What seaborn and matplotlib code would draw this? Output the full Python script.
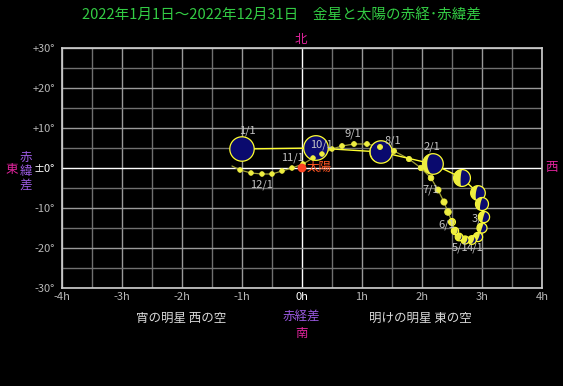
import numpy as np
import pandas as pd
import matplotlib
matplotlib.use("Agg")
import matplotlib.pyplot as plt
import seaborn as sns
from matplotlib.patches import Polygon

# ---------------- data ----------------
days = [0, 10, 20, 30, 40, 50, 60, 70, 80, 90, 100, 110, 120, 130, 140, 150, 160, 170,
        180, 190, 200, 210, 220, 230, 240, 250, 260, 270, 280, 290, 300, 310, 320, 330,
        340, 350]
ra_diff = [-1.00, 0.233, 1.317, 2.183, 2.667, 2.933, 3.000, 3.033, 3.000, 2.933, 2.833,
           2.717, 2.617, 2.550, 2.500, 2.433, 2.367, 2.267, 2.150, 1.983, 1.783, 1.533,
           1.300, 1.083, 0.867, 0.667, 0.500, 0.333, 0.183, 0.017, -0.167, -0.333,
           -0.500, -0.667, -0.850, -1.033]
dec_diff = [4.75, 5.0, 4.0, 1.0, -2.5, -6.25, -9.0, -12.25, -15.0, -17.25, -18.0, -18.0,
            -17.25, -15.75, -13.5, -11.0, -8.5, -5.5, -2.5, 0.0, 2.25, 4.25, 5.25, 6.0,
            6.0, 5.5, 4.75, 3.5, 2.5, 1.0, 0.0, -0.75, -1.5, -1.5, -1.25, -0.5]
disk_radius_px = [12.2, 12.3, 11.2, 10.3, 8.4, 7.3, 6.5, 5.6, 5.0, 4.6, 4.3, 4.0, 3.8, 3.6,
                  3.4, 3.3, 3.1, 3.0, 2.8, 2.7, 2.6, 2.5, 2.5, 2.4, 2.4, 2.4, 2.3, 2.3, 2.3,
                  2.3, 2.3, 2.3, 2.3, 2.3, 2.3, 2.3]
lit_fraction = [0.0, 0.0, 0.04, 0.22, 0.42, 0.36, 0.38, 0.45, 0.5, 0.6, 0.7, 0.75, 0.8,
                0.85, 0.9, 1, 1, 1, 1, 1, 1, 1, 1, 1, 1, 1, 1, 1, 1, 1, 1, 1, 1, 1, 1, 1]
end_day, end_ra, end_dec = 364, -1.167, 0.5

month_labels = ["1/1", "2/1", "3/1", "4/1", "5/1", "6/1", "7/1", "8/1", "9/1", "10/1",
                "11/1", "12/1"]
month_days = [0, 31, 59, 90, 120, 151, 181, 212, 243, 273, 304, 334]
label_ra = [-0.917, 2.167, 2.967, 2.883, 2.633, 2.417, 2.15, 1.517, 0.85, 0.317, -0.167, -0.683]
label_dec = [9.25, 5.25, -12.75, -20.0, -20.0, -14.25, -5.5, 6.75, 8.5, 5.75, 2.5, -4.25]

sun_ra, sun_dec = [0.0], [0.0]

xtick_vals = [-4, -3, -2, -1, 0, 1, 2, 3, 4]
xtick_labels = ["-4h", "-3h", "-2h", "-1h", "0h", "1h", "2h", "3h", "4h"]
ytick_vals = [30, 20, 10, 0, -10, -20, -30]
ytick_labels = ["+30°", "+20°", "+10°", "±0°", "-10°", "-20°", "-30°"]

title = "2022年1月1日～2022年12月31日　金星と太陽の赤経･赤緯差"

# ---------------- style ----------------
sns.set_theme(style="dark", rc={"axes.facecolor": "black", "figure.facecolor": "black",
                               "savefig.facecolor": "black"})
plt.rcParams["font.family"] = ["Noto Sans CJK JP", "DejaVu Sans"]

W, H = 563, 386
fig = plt.figure(figsize=(W / 100, H / 100), dpi=100)
ax = fig.add_axes([62 / W, 98 / H, 480 / W, 240 / H])
ax.set_facecolor("black")
ax.set_xlim(-4, 4)
ax.set_ylim(-30, 30)

# grid
for gx in np.arange(-4, 4.01, 0.5):
    if abs(gx) < 1e-9:
        c = "#ffffff"
    elif abs(gx - round(gx)) < 1e-9:
        c = "#9a9a9a"
    else:
        c = "#707070"
    ax.axvline(gx, color=c, lw=1, zorder=1)
for gy in np.arange(-30, 30.01, 5):
    if abs(gy) < 1e-9:
        c = "#ffffff"
    elif int(round(gy)) % 10 == 0:
        c = "#9a9a9a"
    else:
        c = "#707070"
    ax.axhline(gy, color=c, lw=1, zorder=1)
for s in ax.spines.values():
    s.set_color("#d0d0d0")
    s.set_linewidth(1.2)
    s.set_visible(True)
    s.set_zorder(1.5)

# path lines
df = pd.DataFrame({"day": days + [end_day], "ra": ra_diff + [end_ra],
                   "dec": dec_diff + [end_dec]})
early = df[df["day"] <= 90]
late = df[df["day"] >= 90]
sns.lineplot(data=late, x="ra", y="dec", sort=False, estimator=None, color="#a0a038",
             lw=0.9, ax=ax, zorder=2)
sns.lineplot(data=early, x="ra", y="dec", sort=False, estimator=None, color="#ffff30",
             lw=1.0, ax=ax, zorder=2.1)

# pixel scale of the axes
fig.canvas.draw()
bb = ax.get_window_extent()
kx = bb.width / 8.0
ky = bb.height / 60.0

navy = "#0a0a6e"
yel = "#eeee40"
theta = np.linspace(-np.pi / 2, np.pi / 2, 60)
for d, x, y, r, k in zip(days, ra_diff, dec_diff, disk_radius_px, lit_fraction):
    z = 3 + d / 1000.0
    ang = np.linspace(0, 2 * np.pi, 80)
    circ = np.column_stack([x + r * np.cos(ang) / kx, y + r * np.sin(ang) / ky])
    if k >= 0.97:
        ax.add_patch(Polygon(circ, closed=True, facecolor=yel, edgecolor=yel, lw=0.6,
                             zorder=z))
        continue
    ax.add_patch(Polygon(circ, closed=True, facecolor=navy, edgecolor="#ffff30", lw=0.9,
                         zorder=z))
    if k > 0:
        phi = np.arctan2(-y * ky, -x * kx)
        u = np.concatenate([r * np.cos(theta), (r * np.cos(theta) * (1 - 2 * k))[::-1]])
        v = np.concatenate([r * np.sin(theta), (r * np.sin(theta))[::-1]])
        pxo = u * np.cos(phi) - v * np.sin(phi)
        pyo = u * np.sin(phi) + v * np.cos(phi)
        poly = np.column_stack([x + pxo / kx, y + pyo / ky])
        ax.add_patch(Polygon(poly, closed=True, facecolor=yel, edgecolor="none",
                             zorder=z + 0.0001))

# month labels
for lab, d, lx, ly in zip(month_labels, month_days, label_ra, label_dec):
    ax.text(lx, ly, lab, ha="center", va="center", fontsize=8, color="#c4c4c4",
            zorder=3 + d / 1000.0 - 0.0005)

# sun
sns.scatterplot(x=sun_ra, y=sun_dec, color="#ff4422", s=40, edgecolor="none", ax=ax,
                zorder=5)
ax.text(0.08, 0.2, "太陽", ha="left", va="center", fontsize=9, color="#ff5522", zorder=5)

# ticks
ax.set_xticks(xtick_vals)
ax.set_xticklabels(xtick_labels)
ax.set_yticks(ytick_vals)
ax.set_yticklabels(ytick_labels)
ax.tick_params(axis="both", length=0, labelsize=8, labelcolor="#b8b8b8")
ax.tick_params(axis="x", pad=3)
ax.tick_params(axis="y", pad=5)
for t in ax.get_xticklabels():
    if t.get_text() == "0h":
        t.set_color("#ffffff")
for t in ax.get_yticklabels():
    if t.get_text() == "±0°":
        t.set_color("#ffffff")
ax.set_xlabel("")
ax.set_ylabel("")
ax.grid(False)


def fxy(px, py):
    return px / W, 1 - py / H


fig.text(*fxy(281.5, 15), title, ha="center", va="center", fontsize=10.5, color="#33cc44")
fig.text(*fxy(301, 40), "北", ha="center", va="center", fontsize=9, color="#e0249c")
fig.text(*fxy(301.5, 316), "赤経差", ha="center", va="center", fontsize=9, color="#9a5ae0")
fig.text(*fxy(301, 333), "南", ha="center", va="center", fontsize=9, color="#e0249c")
fig.text(*fxy(181, 318), "宵の明星 西の空", ha="center", va="center", fontsize=9,
         color="#d8d8d8")
fig.text(*fxy(420, 318), "明けの明星 東の空", ha="center", va="center", fontsize=9,
         color="#d8d8d8")
fig.text(*fxy(12, 170), "東", ha="center", va="center", fontsize=9, color="#e0249c")
for ch, py in zip("赤緯差", [157, 171, 185]):
    fig.text(*fxy(26, py), ch, ha="center", va="center", fontsize=9, color="#9a5ae0")
fig.text(*fxy(552, 168), "西", ha="center", va="center", fontsize=9, color="#e0249c")

fig.savefig("out.png", dpi=100, facecolor="black")
